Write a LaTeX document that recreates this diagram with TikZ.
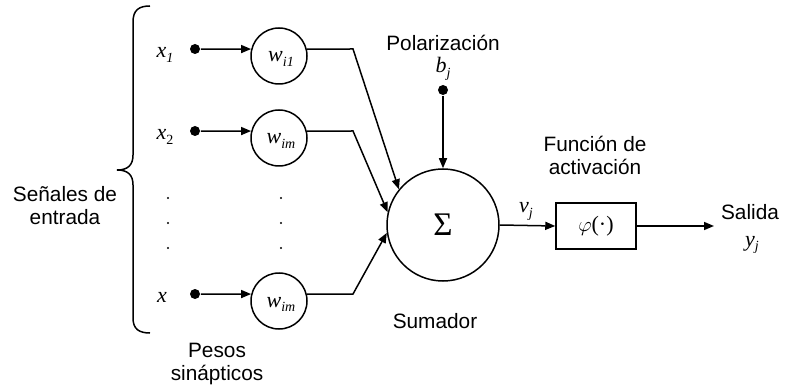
\documentclass[tikz,border=0pt]{standalone}
\usepackage{fontspec}
\setmainfont{Liberation Serif}
\setsansfont{Liberation Sans}
\usetikzlibrary{arrows.meta}
\newcommand{\sublab}[2]{\textit{#1}\raisebox{-0.22em}{\fontsize{14}{14}\selectfont\textit{#2}}}
\newcommand{\sublabup}[2]{\textit{#1}\raisebox{-0.22em}{\fontsize{14}{14}\selectfont #2}}
\begin{document}
\begin{tikzpicture}[x=1pt,y=-1pt,
  every path/.style={line width=1.5pt},
  arr/.style={-{Triangle[length=10pt,width=8pt]}},
  wnode/.style={circle,draw,line width=1.5pt,minimum size=56pt,inner sep=0pt},
  sumnode/.style={circle,draw,line width=1.5pt,minimum size=112pt,inner sep=0pt},
  boxnode/.style={rectangle,draw,line width=1.5pt,minimum width=80pt,minimum height=46pt,inner sep=0pt},
  dotnode/.style={circle,fill=black,minimum size=10pt,inner sep=0pt},
  smalldot/.style={circle,fill=black,minimum size=2.2pt,inner sep=0pt},
  sanslab/.style={font=\sffamily\fontsize{20.8}{23}\selectfont,inner sep=0pt,anchor=base},
  mathlab/.style={font=\fontsize{22}{24}\selectfont,inner sep=0pt,anchor=base}]
\useasboundingbox (0,0) rectangle (786,387);

% brace
\draw (150,6) .. controls (139,6) and (133,10) .. (133,22) -- (133,155)
      .. controls (133,165) and (128,170) .. (117,170)
      .. controls (128,170) and (133,175) .. (133,185) -- (133,318)
      .. controls (133,329) and (139,333) .. (150,333);

% labels
\node[sanslab] (senales) at (65,202) {Señales de};
\node[sanslab] (entrada) at (65,225) {entrada};
\node[sanslab] (pesos) at (217,357) {Pesos};
\node[sanslab] (sinap) at (217,380) {sinápticos};
\node[sanslab] (polar) at (443,51) {Polarización};
\node[sanslab] (funcion) at (595,152) {Función de};
\node[sanslab] (activ) at (595,175) {activación};
\node[sanslab] (sumador) at (435,328) {Sumador};
\node[sanslab] (salida) at (750,219) {Salida};

\node[mathlab] (x1) at (165,58) {\sublab{x}{1}};
\node[mathlab] (x2) at (165,140) {\sublabup{x}{2}};
\node[mathlab] (x3) at (162,302) {\textit{x}};
\node[mathlab] (bj) at (443,73) {\sublab{b}{j}};
\node[mathlab] (vj) at (526,213) {\sublab{v}{j}};
\node[mathlab] (yj) at (752,246) {\sublab{y}{j}};

% input dots
\node[dotnode] (d1) at (195,49) {};
\node[dotnode] (d2) at (195,131) {};
\node[dotnode] (d3) at (195,294) {};

% weight circles
\node[wnode] (w1) at (279,56) {};
\node[wnode] (w2) at (279,138) {};
\node[wnode] (w3) at (279,301) {};
\node[mathlab] (w1t) at (281,62) {\sublab{w}{i1}};
\node[mathlab] (w2t) at (281,144) {\sublab{w}{im}};
\node[mathlab] (w3t) at (281,307) {\sublab{w}{im}};

% vertical ellipsis dots
\node[smalldot] (e1) at (168,198) {};
\node[smalldot] (e2) at (168,223) {};
\node[smalldot] (e3) at (168,248) {};
\node[smalldot] (f1) at (281,198) {};
\node[smalldot] (f2) at (281,223) {};
\node[smalldot] (f3) at (281,248) {};

% summation
\node[sumnode] (sum) at (443,225) {};
\node[font=\fontsize{33}{33}\selectfont,inner sep=0pt,anchor=base] (sigma) at (443,236) {Σ};

% bias
\node[dotnode] (bd) at (443,90) {};

% activation box
\node[boxnode] (box) at (596,226) {};
\node[mathlab] (phi) at (596,232) {$\varphi$(·)};

\coordinate (c1) at (353,49);
\coordinate (c2) at (353,131);
\coordinate (c3) at (353,294);
\coordinate (out) at (714,226);

% connectors
\draw[arr] (d1) -- (w1.166);
\draw[arr] (d2) -- (w2.166);
\draw[arr] (d3) -- (w3.166);
\draw[arr] (w1.14) -- (c1) -- (sum.141);
\draw[arr] (w2.14) -- (c2) -- (sum.167);
\draw[arr] (w3.14) -- (c3) -- (sum.188);
\draw[arr] (bd) -- (sum.north);
\draw[arr] (sum.east) -- (box.west);
\draw[arr] (box.east) -- (out);
\end{tikzpicture}
\end{document}
